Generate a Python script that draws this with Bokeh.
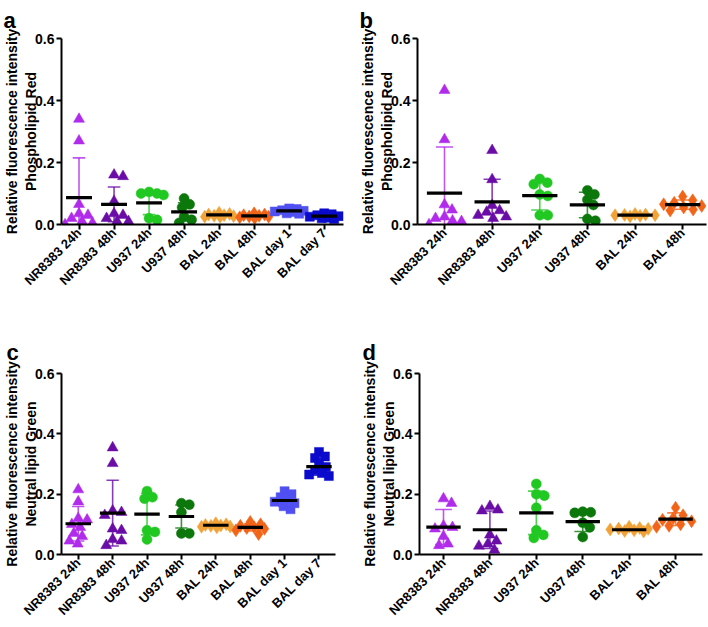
import math
from bokeh.plotting import figure
from bokeh.layouts import column, row
from bokeh.models import FixedTicker, Range1d, PrintfTickFormatter
from bokeh.embed import file_html
from bokeh.resources import INLINE

FONT = "Liberation Sans"

# ---------------- data ----------------
groups8 = ["NR8383 24h", "NR8383 48h", "U937 24h", "U937 48h",
           "BAL 24h", "BAL 48h", "BAL day 1", "BAL day 7"]
groups6 = groups8[:6]
y_ticks = [0.0, 0.2, 0.4, 0.6]
title_line1 = "Relative fluorescence intensity"

# panel a : Phospholipid Red (8 groups)
a_nr24 = [0.34, 0.27, 0.065, 0.035, 0.03, 0.02, 0.01, 0.005, 0.0]
a_nr48 = [0.16, 0.155, 0.075, 0.035, 0.03, 0.02, 0.01, 0.01]
a_u24 = [0.105, 0.1, 0.1, 0.095, 0.02, 0.015]
a_u48 = [0.084, 0.065, 0.055, 0.025, 0.015, 0.005]
a_bal24 = [0.038, 0.034, 0.032, 0.03, 0.028, 0.027, 0.025, 0.025]
a_bal48 = [0.036, 0.032, 0.03, 0.028, 0.026, 0.025, 0.023, 0.02]
a_bald1 = [0.052, 0.05, 0.046, 0.044, 0.042, 0.04, 0.036, 0.035]
a_bald7 = [0.036, 0.033, 0.03, 0.027, 0.025, 0.022, 0.02, 0.018]
a_mean = [0.087, 0.065, 0.07, 0.041, 0.031, 0.028, 0.044, 0.027]
a_sd = [0.128, 0.056, 0.038, 0.029, 0.004, 0.004, 0.005, 0.005]

# panel b : Phospholipid Red (6 groups)
b_nr24 = [0.433, 0.274, 0.064, 0.047, 0.025, 0.02, 0.012, 0.01, 0.0]
b_nr48 = [0.239, 0.145, 0.062, 0.045, 0.04, 0.03, 0.025, 0.02]
b_u24 = [0.147, 0.135, 0.13, 0.097, 0.092, 0.03, 0.03]
b_u48 = [0.11, 0.097, 0.08, 0.063, 0.018, 0.012]
b_bal24 = [0.034, 0.032, 0.031, 0.03, 0.03, 0.028, 0.026]
b_bal48 = [0.09, 0.078, 0.07, 0.065, 0.06, 0.055, 0.048, 0.045]
b_mean = [0.101, 0.073, 0.093, 0.063, 0.03, 0.064]
b_sd = [0.149, 0.073, 0.046, 0.041, 0.003, 0.015]

# panel c : Neutral lipid Green (8 groups)
c_nr24 = [0.215, 0.175, 0.12, 0.115, 0.1, 0.09, 0.07, 0.06, 0.045, 0.035]
c_nr48 = [0.354, 0.302, 0.145, 0.14, 0.13, 0.085, 0.08, 0.05, 0.045, 0.03]
c_u24 = [0.21, 0.19, 0.185, 0.08, 0.075, 0.05]
c_u48 = [0.17, 0.165, 0.14, 0.07, 0.07]
c_bal24 = [0.104, 0.1, 0.098, 0.096, 0.095, 0.093, 0.092, 0.09]
c_bal48 = [0.108, 0.1, 0.095, 0.09, 0.088, 0.085, 0.08, 0.068]
c_bald1 = [0.21, 0.2, 0.19, 0.18, 0.175, 0.17, 0.16, 0.15]
c_bald7 = [0.34, 0.325, 0.32, 0.3, 0.29, 0.28, 0.27, 0.265, 0.26]
c_mean = [0.102, 0.137, 0.134, 0.126, 0.097, 0.09, 0.179, 0.291]
c_sd = [0.057, 0.109, 0.069, 0.038, 0.004, 0.012, 0.02, 0.028]

# panel d : Neutral lipid Green (6 groups)
d_nr24 = [0.185, 0.17, 0.095, 0.09, 0.085, 0.06, 0.035, 0.03]
d_nr48 = [0.16, 0.148, 0.145, 0.065, 0.045, 0.035, 0.028, 0.015]
d_u24 = [0.234, 0.2, 0.195, 0.155, 0.08, 0.065, 0.055]
d_u48 = [0.142, 0.14, 0.138, 0.105, 0.09, 0.058]
d_bal24 = [0.092, 0.088, 0.086, 0.085, 0.083, 0.08, 0.078, 0.076]
d_bal48 = [0.155, 0.13, 0.12, 0.115, 0.11, 0.1, 0.095, 0.092]
d_mean = [0.091, 0.082, 0.138, 0.109, 0.082, 0.117]
d_sd = [0.058, 0.062, 0.072, 0.033, 0.005, 0.021]

# ---------------- styles ----------------
colors = ["#B12BEB", "#6A0CA6", "#22C822", "#0C780C",
          "#F2A338", "#F26418", "#5050F2", "#0B0BCC"]
markers = ["triangle", "triangle", "circle", "circle",
           "diamond", "diamond", "square", "square"]
msize = {"triangle": 11, "circle": 10, "diamond": 13, "square": 9}


def beeswarm(vals, pxx, pxy, mind, max_off_px):
    placed = []
    offs = []
    cands = [0.0]
    k = 1
    while k * 0.5 <= max_off_px:
        cands += [k * 0.5, -k * 0.5]
        k += 1
    for v in vals:
        y = v * pxy
        best, best_d = 0.0, -1.0
        for c in cands:
            d = min((math.hypot(c - px, y - py) for px, py in placed), default=1e9)
            if d >= mind:
                best = c
                break
            if d > best_d:
                best_d, best = d, c
        placed.append((best, y))
        offs.append(best / pxx)
    return offs


def make_panel(letter, line2, groups, series, means, sds, width, height,
               mbl, mbr, mbt, mbb, xs, xe, letter_dx, letter_standoff):
    p = figure(width=width, height=height, x_range=Range1d(xs, xe),
               y_range=Range1d(0, 0.6), output_backend="svg",
               toolbar_location=None, min_border_left=mbl,
               min_border_right=mbr, min_border_top=mbt,
               min_border_bottom=mbb)
    p.outline_line_color = None
    p.xgrid.visible = False
    p.ygrid.visible = False
    p.background_fill_color = "white"
    p.border_fill_color = "white"

    frame_w = width - mbl - mbr
    frame_h = height - mbt - mbb
    pxx = frame_w / (xe - xs)
    pxy = frame_h / 0.6

    for i, (vals, m, s) in enumerate(zip(series, means, sds)):
        xc = i + 1
        col = colors[i]
        p.segment(x0=[xc], y0=[m - s], x1=[xc], y1=[m + s],
                  line_color=col, line_width=1.6, line_alpha=0.8)
        p.segment(x0=[xc - 0.18, xc - 0.18], y0=[m - s, m + s],
                  x1=[xc + 0.18, xc + 0.18], y1=[m - s, m + s],
                  line_color=col, line_width=1.6, line_alpha=0.8)
        mk = markers[i]
        offs = beeswarm(vals, pxx, pxy, 0.8 * msize[mk], 0.42 * pxx)
        xsv = [xc + o for o in offs]
        p.scatter(x=xsv, y=vals, marker=mk, size=msize[mk],
                  fill_color=col, line_color=col, line_width=0.5)
        p.segment(x0=[xc - 0.37], y0=[m], x1=[xc + 0.37], y1=[m],
                  line_color="black", line_width=3.2)

    # axes
    p.yaxis.ticker = FixedTicker(ticks=y_ticks)
    p.yaxis.formatter = PrintfTickFormatter(format="%.1f")
    p.xaxis.ticker = FixedTicker(ticks=list(range(1, len(groups) + 1)))
    p.xaxis.major_label_overrides = {i + 1: g for i, g in enumerate(groups)}
    p.xaxis.major_label_orientation = math.pi / 4
    for ax in (p.xaxis[0], p.yaxis[0]):
        ax.axis_line_width = 2
        ax.axis_line_color = "black"
        ax.major_tick_line_width = 2
        ax.major_tick_line_color = "black"
        ax.major_tick_out = 5
        ax.major_tick_in = 0
        ax.minor_tick_line_color = None
        ax.major_label_text_font = FONT
        ax.major_label_text_font_style = "bold"
        ax.major_label_text_color = "black"
    p.yaxis.major_label_text_font_size = "14px"
    p.yaxis.major_label_standoff = 2
    p.xaxis.major_label_text_font_size = "13px"
    p.xaxis.major_label_standoff = 1

    # y-axis title (two lines)
    p.yaxis.axis_label = title_line1 + "\n" + line2
    p.yaxis.axis_label_text_font = FONT
    p.yaxis.axis_label_text_font_style = "bold"
    p.yaxis.axis_label_text_font_size = "14px"
    p.yaxis.axis_label_text_color = "black"
    p.yaxis.axis_label_standoff = -7

    # panel letter
    p.title.text = letter
    p.title.align = "left"
    p.title.offset = letter_dx
    p.title.standoff = letter_standoff
    p.title.text_font = FONT
    p.title.text_font_style = "bold"
    p.title.text_font_size = "22px"
    p.title.text_color = "black"
    return p


pa = make_panel("a", "Phospholipid Red", groups8,
                [a_nr24, a_nr48, a_u24, a_u48, a_bal24, a_bal48, a_bald1, a_bald7],
                a_mean, a_sd, 354, 310, 60, 11, 36, 86, 0.5, 8.55, -58, 11)
pb = make_panel("b", "Phospholipid Red", groups6,
                [b_nr24, b_nr48, b_u24, b_u48, b_bal24, b_bal48],
                b_mean, b_sd, 353, 310, 63, 1, 36, 86, 0.433, 6.5, -58, 11)
pc = make_panel("c", "Neutral lipid Green", groups8,
                [c_nr24, c_nr48, c_u24, c_u48, c_bal24, c_bal48, c_bald1, c_bald7],
                c_mean, c_sd, 354, 316, 57, 19, 63, 69, 0.513, 8.48, -55, 17)
pd = make_panel("d", "Neutral lipid Green", groups6,
                [d_nr24, d_nr48, d_u24, d_u48, d_bal24, d_bal48],
                d_mean, d_sd, 353, 316, 65, 5, 63, 69, 0.483, 6.58, -57, 17)

layout = column(row(pa, pb), row(pc, pd))
open("out.html", "w").write(file_html(layout, INLINE))
